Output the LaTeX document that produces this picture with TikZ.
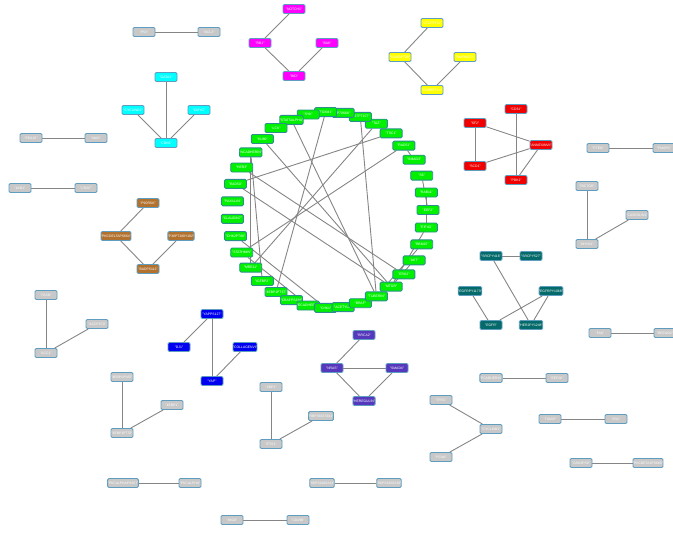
\documentclass[tikz,border=0pt]{standalone}
\usepackage{fontspec}
\setmainfont{Liberation Sans}
\usepackage{tikz}
\pgfdeclarelayer{background}
\pgfsetlayers{background,main}
\definecolor{rimblue}{HTML}{5E9CC0}
\definecolor{rimteal}{HTML}{2E8F8F}
\definecolor{boxgrey}{HTML}{C8C8C8}
\definecolor{boxpink}{HTML}{FF00FF}
\definecolor{boxyellow}{HTML}{FFFF00}
\definecolor{boxcyan}{HTML}{00FFFF}
\definecolor{boxgreen}{HTML}{00F000}
\definecolor{boxred}{HTML}{F00000}
\definecolor{boxbrown}{HTML}{B2722F}
\definecolor{boxteal}{HTML}{056A6A}
\definecolor{boxblue}{HTML}{0000F0}
\definecolor{boxpurple}{HTML}{5638BC}
\tikzset{
    genebox/.style={
        rectangle,
        rounded corners=1.3pt,
        draw=rimblue, line width=0.9pt,
        minimum width=22pt,
        minimum height=9pt,
        inner sep=0pt,
        text=white,
        font={\fontsize{3.4}{4}\selectfont}
    },
    greybox/.style={genebox, fill=boxgrey},
    pinkbox/.style={genebox, fill=boxpink},
    yellowbox/.style={genebox, fill=boxyellow},
    cyanbox/.style={genebox, fill=boxcyan},
    greenbox/.style={genebox, fill=boxgreen, draw=rimteal},
    redbox/.style={genebox, fill=boxred},
    brownbox/.style={genebox, fill=boxbrown},
    tealbox/.style={genebox, fill=boxteal},
    bluebox/.style={genebox, fill=boxblue},
    purplebox/.style={genebox, fill=boxpurple},
    link/.style={draw=black!48, line width=0.9pt},
}
\begin{document}
\begin{tikzpicture}[x=1pt, y=-1pt]
\useasboundingbox (0,0) rectangle (673,533);

% small groups, top half
\node[greybox](p53) at (144,32){"P53"};
\node[greybox](bcl2) at (209,32){"BCL2"};
\node[pinkbox](notch1) at (294,9){"NOTCH1"};
\node[pinkbox](rb1) at (260,43){"RB1"};
\node[pinkbox](bak) at (327,43){"BAK"};
\node[pinkbox](bid) at (294,76){"BID"};
\node[yellowbox](ctcf) at (432,23){"CTCFPT11"};
\node[yellowbox](rasg) at (400,57){"RASGPT20"};
\node[yellowbox](mkpb) at (465,57){"MKPB4T3"};
\node[yellowbox](esrb) at (432,90){"ESRBPT14"};
\node[cyanbox](gata3) at (166,77){"GATA3"};
\node[cyanbox](cycd1) at (133,110){"CYCLIND1"};
\node[cyanbox](cmyc) at (199,110){"CMYC"};
\node[cyanbox](cdk6) at (166,143){"CDK6"};
\node[greybox](pea15) at (31,138){"PEA15"};
\node[greybox](max) at (96,138){"MAX"};
\node[greybox](lkb1) at (20,188){"LKB1"};
\node[greybox](craf) at (86,188){"CRAF"};
\node[brownbox](p90rsk) at (148,203){"P90RSK"};
\node[brownbox](pkcd) at (116,236){"PKCDELTAPS664"};
\node[brownbox](p38) at (181,236){"P38PT180Y182"};
\node[brownbox](bad) at (148,269){"BADPS112"};
\node[redbox](cd31) at (516,109){"CD31"};
\node[redbox](sf2) at (475,123){"SF2"};
\node[redbox](anxa) at (541,145){"ANNEXINVII"};
\node[redbox](scd1) at (475,166){"SCD1"};
\node[redbox](pdk1) at (516,180){"PDK1"};
\node[greybox](pten) at (598,148){"PTEN"};
\node[greybox](pmapk) at (664,148){"PMAPK"};
\node[greybox](rictor) at (587,186){"RICTOR"};
\node[greybox](cav1) at (637,215){"CAVEOLIN1"};
\node[greybox](myh11) at (587,244){"MYH11"};

% phospho EGFR / SRC group
\node[tealbox](src416) at (491,256){"SRCPY416"};
\node[tealbox](src527) at (531,256){"SRCPY527"};
\node[tealbox](egfr1173) at (470,291){"EGFRPY1173"};
\node[tealbox](egfr1068) at (551,291){"EGFRPY1068"};
\node[tealbox](egfr) at (491,325){"EGFR"};
\node[tealbox](her2) at (531,325){"HER2PY1248"};
\node[greybox](fak) at (600,333){"FAK"};
\node[greybox](brcnd2) at (665,333){"BRCND2"};

% small groups, bottom half
\node[greybox](fasn) at (46,295){"FASN"};
\node[greybox](accps79) at (97,324){"ACCPS79"};
\node[greybox](acc1) at (46,353){"ACC1"};
\node[bluebox](yapps) at (212,314){"YAPPS127"};
\node[bluebox](dj1) at (179,347){"DJ1"};
\node[bluebox](coll) at (245,347){"COLLAGENVI"};
\node[bluebox](yap) at (212,381){"YAP"};
\node[purplebox](brca2) at (364,335){"BRCA2"};
\node[purplebox](nras) at (332,368){"NRAS"};
\node[purplebox](smad4) at (397,368){"SMAD4"};
\node[purplebox](hrg) at (364,401){"HEREGULIN"};
\node[greybox](ebp65) at (122,377){"4EBP1PS65"};
\node[greybox](ebp1) at (172,405){"4EBP1"};
\node[greybox](ebp70) at (122,433){"4EBP1PT70"};
\node[greybox](xbp1) at (271,387){"XBP1"};
\node[greybox](rbps) at (321,416){"RBPS807S811"};
\node[greybox](ets1) at (271,444){"ETS1"};
\node[greybox](tfrc) at (441,400){"TFRC"};
\node[greybox](cycb1) at (491,429){"CYCLINB1"};
\node[greybox](pcna) at (441,457){"PCNA"};
\node[greybox](pcad) at (491,378){"PCADHERIN"};
\node[greybox](eef2k) at (557,378){"EEF2K"};
\node[greybox](tigar) at (550,419){"TIGAR"};
\node[greybox](src) at (616,419){"SRC"};
\node[greybox](gsk) at (581,463){"GSK3PS9"};
\node[greybox](pkcb) at (648,463){"PKCBETAIIPS660"};
\node[greybox](pkca657) at (123,483){"PKCALPHAPS657"};
\node[greybox](pkca) at (190,483){"PKCALPHA"};
\node[greybox](s6ps240) at (322,483){"S6PS240S244"};
\node[greybox](s6ps235) at (389,483){"S6PS235S236"};
\node[greybox](mig6) at (232,520){"MIG6"};
\node[greybox](cd49b) at (298,520){"CD49B"};

% ring of 35 nodes round (330,210), r = 98
\node[greenbox](eef2) at (428.0,210.0){"EEF2"};
\node[greenbox](rab11) at (426.4,192.5){"RAB11"};
\node[greenbox](s6) at (421.7,175.6){"S6"};
\node[greenbox](smad3) at (414.1,159.7){"SMAD3"};
\node[greenbox](rad51) at (403.9,145.6){"RAD51"};
\node[greenbox](tsc1) at (391.1,133.4){"TSC1"};
\node[greenbox](taz) at (376.4,123.7){"TAZ"};
\node[greenbox](p27) at (360.3,116.8){"P27PT157"};
\node[greenbox](p70) at (343.1,112.9){"P70S6K"};
\node[greenbox](foxm1) at (325.6,112.1){"FOXM1"};
\node[greenbox](syk) at (308.2,114.5){"SYK"};
\node[greenbox](stat5) at (291.5,119.9){"STAT5ALPHA"};
\node[greenbox](lck) at (276.0,128.0){"LCK"};
\node[greenbox](ku80) at (262.3,139.0){"KU80"};
\node[greenbox](ncad) at (250.7,152.4){"NCADHERIN"};
\node[greenbox](her3) at (241.7,167.5){"HER3"};
\node[greenbox](rad50) at (235.5,183.9){"RAD50"};
\node[greenbox](pax) at (232.4,201.3){"PAXILLIN"};
\node[greenbox](cldn7) at (232.4,218.8){"CLAUDIN7"};
\node[greenbox](chk2) at (235.5,236.1){"CHK2PT68"};
\node[greenbox](stmn) at (241.7,252.5){"STATHMIN"};
\node[greenbox](mre11) at (250.7,267.6){"MRE11"};
\node[greenbox](igfbp2) at (262.3,281.0){"IGFBP2"};
\node[greenbox](ebp37) at (276.0,292.0){"4EBP1PT37"};
\node[greenbox](craf338) at (291.5,300.1){"CRAFPS338"};
\node[greenbox](ecad) at (308.2,305.5){"ECADHERIN"};
\node[greenbox](chk1) at (325.6,307.9){"CHK1"};
\node[greenbox](actub) at (343.1,307.1){"ACETYLA"};
\node[greenbox](braf) at (360.3,303.2){"BRAF"};
\node[greenbox](tuberin) at (376.4,296.3){"TUBERIN"};
\node[greenbox](mtor) at (391.1,286.6){"MTOR"};
\node[greenbox](erk2) at (403.9,274.4){"ERK2"};
\node[greenbox](akt) at (414.1,260.3){"AKT"};
\node[greenbox](rbm15) at (421.7,244.4){"RBM15"};
\node[greenbox](eif4g) at (426.4,227.5){"EIF4G"};

% edges, drawn behind the boxes
\begin{pgfonlayer}{background}
\draw[link] (p53) -- (bcl2);
\draw[link] (notch1) -- (rb1);
\draw[link] (rb1) -- (bid);
\draw[link] (bak) -- (bid);
\draw[link] (ctcf) -- (rasg);
\draw[link] (rasg) -- (esrb);
\draw[link] (mkpb) -- (esrb);
\draw[link] (gata3) -- (cdk6);
\draw[link] (cycd1) -- (cdk6);
\draw[link] (cmyc) -- (cdk6);
\draw[link] (pea15) -- (max);
\draw[link] (lkb1) -- (craf);
\draw[link] (p90rsk) -- (pkcd);
\draw[link] (pkcd) -- (bad);
\draw[link] (p38) -- (bad);
\draw[link] (sf2) -- (scd1);
\draw[link] (sf2) -- (anxa);
\draw[link] (scd1) -- (anxa);
\draw[link] (cd31) -- (pdk1);
\draw[link] (anxa) -- (pdk1);
\draw[link] (pten) -- (pmapk);
\draw[link] (rictor) -- (myh11);
\draw[link] (cav1) -- (myh11);
\draw[link] (src416) -- (src527);
\draw[link] (src416) -- (her2);
\draw[link] (egfr1173) -- (egfr);
\draw[link] (egfr1068) -- (egfr);
\draw[link] (egfr1068) -- (her2);
\draw[link] (fak) -- (brcnd2);
\draw[link] (fasn) -- (acc1);
\draw[link] (accps79) -- (acc1);
\draw[link] (yapps) -- (dj1);
\draw[link] (yapps) -- (yap);
\draw[link] (coll) -- (yap);
\draw[link] (brca2) -- (nras);
\draw[link] (nras) -- (smad4);
\draw[link] (nras) -- (hrg);
\draw[link] (smad4) -- (hrg);
\draw[link] (ebp65) -- (ebp70);
\draw[link] (ebp1) -- (ebp70);
\draw[link] (xbp1) -- (ets1);
\draw[link] (rbps) -- (ets1);
\draw[link] (tfrc) -- (cycb1);
\draw[link] (pcna) -- (cycb1);
\draw[link] (pcad) -- (eef2k);
\draw[link] (tigar) -- (src);
\draw[link] (gsk) -- (pkcb);
\draw[link] (pkca657) -- (pkca);
\draw[link] (s6ps240) -- (s6ps235);
\draw[link] (mig6) -- (cd49b);
% inside the ring
\draw[link] (s6) -- (eef2);
\draw[link] (rab11) -- (eif4g);
\draw[link] (smad3) -- (rad51);
\draw[link] (p27) -- (tuberin);
\draw[link] (stat5) -- (tuberin);
\draw[link] (ku80) -- (mtor);
\draw[link] (her3) -- (erk2);
\draw[link] (rad50) -- (mtor);
\draw[link] (tsc1) -- (rad50);
\draw[link] (taz) -- (mre11);
\draw[link] (rad51) -- (stmn);
\draw[link] (foxm1) -- (ebp37);
\draw[link] (ncad) -- (igfbp2);
\draw[link] (ncad) -- (mre11);
\draw[link] (chk2) -- (chk1);
\draw[link] (stmn) -- (ecad);
\draw[link] (rbm15) -- (tuberin);
\draw[link] (akt) -- (mtor);
\draw[link] (eif4g) -- (mtor);
\end{pgfonlayer}
\end{tikzpicture}
\end{document}
